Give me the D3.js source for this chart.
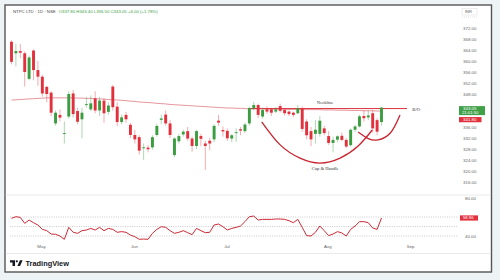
<!DOCTYPE html>
<html>
<head>
<meta charset="utf-8">
<script src="https://cdn.jsdelivr.net/npm/d3@7"></script>
<style>
html, body { margin: 0; padding: 0; background: #eef4f6; }
svg { display: block; font-family: "Liberation Sans", Arial, sans-serif; }
</style>
</head>
<body>
<div id="chart"></div>
<script>
// daily candles, late Apr -> 20 Aug
const opens = [367.0,362.8,363.6,362.8,353.5,363.8,356.7,354.3,350.6,348.5,
    337.3,340.4,333.5,339.8,348.2,341.8,338.8,344.0,342.4,346.4,
    342.0,345.6,341.5,350.7,343.4,337.8,340.4,336.8,333.1,332.3,
    328.3,328.5,328.6,333.1,338.6,340.5,337.3,325.8,330.8,333.3,
    334.5,331.8,329.1,332.7,330.0,331.0,331.5,338.3,334.9,334.6,
    331.8,333.9,335.2,334.5,337.3,342.8,344.0,339.8,342.4,342.4,
    341.6,343.6,342.2,341.6,341.2,341.0,342.8,338.0,334.5,333.5,
    333.5,335.5,332.7,330.2,331.4,332.8,331.3,329.4,335.0,336.2,
    340.0,339.5,341.0,338.5,337.8];
const highs = [367.5,366.3,366.2,363.5,362.0,364.2,360.0,355.0,351.0,349.0,
    342.0,342.4,338.0,349.0,349.5,343.0,343.0,347.0,347.5,349.0,
    347.0,346.5,345.0,351.3,345.0,340.5,341.5,337.5,335.0,333.0,
    330.0,329.5,333.0,337.0,340.5,342.0,338.5,332.3,333.5,335.0,
    336.0,332.5,335.0,333.5,331.0,332.0,337.0,340.4,336.2,335.5,
    333.5,335.5,336.0,337.5,343.5,345.2,344.5,343.0,343.5,343.0,
    343.2,344.5,342.8,342.0,341.6,344.0,343.5,338.8,336.0,338.5,
    340.0,336.5,334.5,332.5,333.0,334.0,332.0,335.5,336.8,340.5,
    342.0,342.0,342.2,339.2,343.4];
const lows = [358.8,358.0,361.0,350.7,353.0,353.0,351.0,347.0,345.0,340.0,
    336.5,338.0,330.0,339.0,339.5,337.0,331.9,343.0,341.8,341.0,
    340.0,337.5,340.5,342.0,336.3,337.0,337.6,332.0,330.0,326.0,
    324.0,326.8,327.8,332.5,337.0,336.5,332.0,325.0,330.0,332.5,
    331.0,327.0,328.0,329.0,320.4,327.5,330.5,336.5,332.5,331.0,
    330.5,330.6,333.0,333.8,336.5,342.0,339.2,339.0,340.8,340.0,
    341.0,341.3,340.2,340.0,339.6,340.6,334.3,331.5,329.0,330.0,
    332.5,333.0,329.5,326.8,330.5,330.8,328.3,328.8,334.2,335.8,
    338.0,338.5,334.0,333.0,336.5];
const closes = [359.7,363.6,363.0,356.0,361.3,356.7,354.3,348.2,348.0,341.2,
    341.2,339.4,333.8,348.0,340.7,337.9,341.2,344.3,344.6,342.0,
    345.6,341.0,343.8,343.2,337.8,339.5,338.8,333.1,331.5,327.4,
    328.6,327.9,332.3,336.4,339.1,337.3,333.1,331.8,332.7,334.3,
    331.8,329.1,334.5,331.7,329.1,330.0,336.4,337.6,334.4,331.9,
    333.0,334.1,334.7,336.9,342.9,344.0,340.4,342.2,341.6,341.2,
    342.4,341.9,341.0,340.7,340.4,342.8,335.3,333.0,331.5,335.0,
    338.3,333.8,330.2,331.3,332.6,331.3,328.9,335.0,336.2,339.9,
    339.2,340.2,335.5,334.3,343.05];

// slow moving average drawn as thin line
const maValues = [345.8,345.9,346.0,346.1,346.2,346.3,346.4,346.5,346.6,346.6,
    346.6,346.6,346.6,346.6,346.6,346.5,346.5,346.4,346.4,346.3,
    346.2,346.1,346.0,345.9,345.8,345.7,345.6,345.4,345.3,345.1,
    345.0,344.9,344.8,344.6,344.5,344.4,344.2,344.1,344.0,343.9,
    343.8,343.7,343.6,343.5,343.4,343.3,343.2,343.1,343.0,342.9,
    342.9,342.8,342.8,342.7,342.6,342.6,342.6,342.6,342.5,342.5,
    342.5,342.5,342.4,342.4,342.4,342.4,342.4,342.3,342.3,342.3,
    342.3,342.2,342.2,342.2,342.1,342.1,342.1,342.0,342.0,342.0,
    341.9,341.9,341.9,341.8,341.8];

// RSI pane
const rsiValues = [58.6,60.3,59.6,53.3,56.8,54.0,51.5,47.0,45.6,42.1,
    41.8,40.0,36.5,49.1,43.9,42.8,45.6,46.3,48.0,46.3,
    49.1,45.6,48.0,47.0,43.9,44.6,43.9,41.0,39.3,36.5,
    36.8,36.5,42.8,47.0,49.8,49.1,45.6,42.8,43.9,45.6,
    43.5,41.4,48.0,45.6,43.5,43.9,51.6,52.6,49.8,46.3,
    48.0,49.1,50.5,55.1,60.3,61.0,56.8,57.5,57.5,57.5,
    57.9,57.9,57.5,56.1,54.0,57.5,49.1,40.4,40.0,43.9,
    50.5,45.6,40.4,42.1,44.6,43.2,40.0,47.0,50.5,55.1,
    55.1,54.0,48.4,47.0,58.96];
const rsiLevels = [60, 50, 40];
const rsiTicks = [80, 40];

// axis labels (344 / 340 sit under the last-value tags, so left out)
const priceTicks = [372,368,364,360,356,352,348,336,332,328,324,320,316];
const monthLabels = ["May", "Jun", "Jul", "Aug", "Sep"];
const monthIdx = [6.7, 27.8, 48.8, 71.7, 90.5];

// pattern annotations (bar index, price)
const necklineIdx = [54, 89.8];
const necklinePrice = 342.7;
const cupIdx = [56.8, 61, 65.5, 70, 74.6, 78.7, 81.9];
const cupPrice = [337.9, 329.5, 324.7, 322.9, 324.7, 329.1, 334.9];
const handleIdx = [78.7, 81, 83.2, 86, 88.2];
const handlePrice = [334.2, 331.8, 331.3, 333.8, 340.4];

const lastClose = 343.05, lastMa = 341.8, lastRsi = 58.96;

const upColor = "#3a9d3f", downColor = "#e2313c";

let svg = d3.select("#chart").append("svg")
    .attr("width", 500)
    .attr("height", 280);

// white frame
svg.append("rect")
    .attr("x", 5).attr("y", 5)
    .attr("width", 486.5).attr("height", 267)
    .attr("fill", "#fff")
    .attr("stroke", "#555")
    .attr("stroke-width", 1.4);

// scales
let x = d3.scaleLinear().domain([0, 84]).range([11.5, 381.5]);
let y = d3.scaleLinear().domain([316, 372]).range([182, 28]);
let yR = d3.scaleLinear().domain([40, 80]).range([236, 198]);

// pane separators
svg.append("line").attr("x1", 5.7).attr("x2", 490.8).attr("y1", 195).attr("y2", 195)
    .attr("stroke", "#e4e4e4").attr("stroke-width", 0.8);
svg.append("line").attr("x1", 5.7).attr("x2", 490.8).attr("y1", 253.5).attr("y2", 253.5)
    .attr("stroke", "#e4e4e4").attr("stroke-width", 0.8);

// price axis
let yAxis = d3.axisRight(y)
    .tickValues(priceTicks)
    .tickFormat(d3.format(".2f"))
    .tickSize(0)
    .tickPadding(0);
let gy = svg.append("g")
    .attr("transform", "translate(463,0)")
    .call(yAxis);
gy.select(".domain").remove();
gy.selectAll("text").attr("fill", "#666").style("font-size", "4.4px");

// INR box
svg.append("rect").attr("x", 462).attr("y", 8.5).attr("width", 15).attr("height", 6.5)
    .attr("fill", "#fff").attr("stroke", "#e2e2e2").attr("stroke-width", 0.6);
svg.append("text").attr("x", 465).attr("y", 13.3).text("INR")
    .attr("fill", "#555").style("font-size", "4px");
svg.append("line").attr("x1", 462).attr("x2", 478).attr("y1", 17).attr("y2", 17)
    .attr("stroke", "#ccc").attr("stroke-width", 0.6).attr("stroke-dasharray", "1,1");

// rsi axis
let rAxis = d3.axisRight(yR)
    .tickValues(rsiTicks)
    .tickFormat(d3.format(".2f"))
    .tickSize(0)
    .tickPadding(0);
let gr = svg.append("g")
    .attr("transform", "translate(465,0)")
    .call(rAxis);
gr.select(".domain").remove();
gr.selectAll("text").attr("fill", "#666").style("font-size", "4.4px");

// time axis
let xAxis = d3.axisBottom(x)
    .tickValues(monthIdx)
    .tickFormat((d, i) => monthLabels[i])
    .tickSize(0)
    .tickPadding(0);
let gx = svg.append("g")
    .attr("transform", "translate(0,245)")
    .call(xAxis);
gx.select(".domain").remove();
gx.selectAll("text").attr("fill", "#666").style("font-size", "4.4px");

// moving average
let maLine = d3.line()
    .x((d, i) => x(i))
    .y(d => y(d))
    .curve(d3.curveMonotoneX);
svg.append("path")
    .datum(maValues)
    .attr("d", maLine)
    .attr("fill", "none")
    .attr("stroke", "#e07a84")
    .attr("stroke-width", 0.8);

// neckline
svg.append("line")
    .attr("x1", x(necklineIdx[0])).attr("x2", x(necklineIdx[1]))
    .attr("y1", y(necklinePrice)).attr("y2", y(necklinePrice))
    .attr("stroke", "#d8323c")
    .attr("stroke-width", 1);

// candles
let candles = opens.map((o, i) => ({i: i, o: o, h: highs[i], l: lows[i], c: closes[i]}));

svg.selectAll(".wick")
    .data(candles)
    .enter().append("line")
    .attr("class", "wick")
    .attr("x1", d => x(d.i)).attr("x2", d => x(d.i))
    .attr("y1", d => y(d.h)).attr("y2", d => y(d.l))
    .attr("stroke", d => d.c >= d.o ? upColor : downColor)
    .attr("stroke-opacity", 0.45)
    .attr("stroke-width", 0.9);

svg.selectAll(".body")
    .data(candles)
    .enter().append("rect")
    .attr("class", "body")
    .attr("x", d => x(d.i) - 1.45)
    .attr("width", 2.9)
    .attr("y", d => y(Math.max(d.o, d.c)))
    .attr("height", d => Math.max(0.9, Math.abs(y(d.o) - y(d.c))))
    .attr("fill", d => d.c >= d.o ? upColor : downColor);

// cup & handle curves
let curveLine = d3.line()
    .x(d => x(d[0]))
    .y(d => y(d[1]))
    .curve(d3.curveNatural);
svg.append("path")
    .datum(cupIdx.map((d, i) => [d, cupPrice[i]]))
    .attr("d", curveLine)
    .attr("fill", "none")
    .attr("stroke", "#c9242f")
    .attr("stroke-width", 1.3);
svg.append("path")
    .datum(handleIdx.map((d, i) => [d, handlePrice[i]]))
    .attr("d", curveLine)
    .attr("fill", "none")
    .attr("stroke", "#c9242f")
    .attr("stroke-width", 1.3);

// annotation text
svg.append("text").attr("x", x(71.2)).attr("y", y(344.4)).attr("text-anchor", "middle")
    .text("Neckline").style("font-family", "Liberation Serif").style("font-size", "4.6px").attr("fill", "#333");
svg.append("text").attr("x", x(91.0)).attr("y", y(342.0)).attr("text-anchor", "start")
    .text("B/O").style("font-family", "Liberation Serif").style("font-size", "4.8px").attr("fill", "#333");
svg.append("text").attr("x", x(71.2)).attr("y", y(320.4)).attr("text-anchor", "middle")
    .text("Cup & Handle").style("font-family", "Liberation Serif").style("font-size", "4.6px").attr("fill", "#333");

// rsi levels and line
svg.selectAll(".level")
    .data(rsiLevels)
    .enter().append("line")
    .attr("class", "level")
    .attr("x1", 10).attr("x2", 458)
    .attr("y1", d => yR(d)).attr("y2", d => yR(d))
    .attr("stroke", "#aaa")
    .attr("stroke-width", 0.6)
    .attr("stroke-dasharray", "1,1.3");

let rsiLine = d3.line()
    .x((d, i) => x(i))
    .y(d => yR(d));
svg.append("path")
    .datum(rsiValues)
    .attr("d", rsiLine)
    .attr("fill", "none")
    .attr("stroke", "#cc2a36")
    .attr("stroke-width", 1);

// last value labels on the scale
svg.append("rect").attr("x", 459).attr("y", y(lastClose) - 1.5).attr("width", 26).attr("height", 9)
    .attr("fill", "#3ea047");
svg.append("text").attr("x", 463).attr("y", y(lastClose) + 2.6).text(lastClose.toFixed(2))
    .attr("fill", "#fff").style("font-size", "4.4px");
svg.append("text").attr("x", 462).attr("y", y(lastClose) + 6.6).text("21:01:50")
    .attr("fill", "#fff").style("font-size", "4.2px");
svg.append("rect").attr("x", 459).attr("y", y(lastMa) + 6).attr("width", 22.5).attr("height", 5.2)
    .attr("fill", "#e2313c");
svg.append("text").attr("x", 463).attr("y", y(lastMa) + 10.2).text(lastMa.toFixed(2))
    .attr("fill", "#fff").style("font-size", "4.4px");
svg.append("rect").attr("x", 460).attr("y", yR(lastRsi) - 2.6).attr("width", 18).attr("height", 5.2)
    .attr("fill", "#e2313c");
svg.append("text").attr("x", 463).attr("y", yR(lastRsi) + 1.5).text(lastRsi.toFixed(2))
    .attr("fill", "#fff").style("font-size", "4.2px");

// title legend
let title = svg.append("text").attr("x", 13).attr("y", 13.3).style("font-size", "4.3px");
title.append("tspan").text("NTPC LTD · 1D · NSE").attr("fill", "#444");
title.append("tspan").attr("dx", 3).text("O337.80  H343.40  L336.50  C343.05  +6.00 (+1.78%)").attr("fill", "#3a9d3f");

// TradingView logo
let logo = svg.append("g").attr("transform", "translate(10,259.5) scale(0.36)");
logo.append("path").attr("d", "M14 18H7V8H0V2h14v16zM28 18h-7.5l7-16h7.5L28 18z").attr("fill", "#131722");
logo.append("circle").attr("cx", 19).attr("cy", 5).attr("r", 3).attr("fill", "#131722");
svg.append("text").attr("x", 25.5).attr("y", 265.8).text("TradingView")
    .attr("fill", "#131722").style("font-size", "7.4px").style("font-weight", "bold");
</script>
</body>
</html>
